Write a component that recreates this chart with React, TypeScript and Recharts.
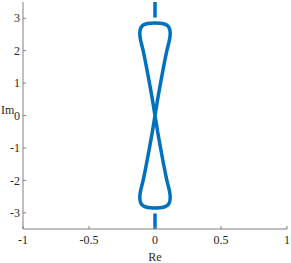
import { Line, LineChart, XAxis, YAxis } from "recharts";

// closed figure-eight, traced: up the right side, over the top, down through 0, round the bottom lobe
const curveRe = [
  0, 0.02, 0.042, 0.065, 0.09, 0.108, 0.115, 0.112, 0.098, 0.07, 0.035, 0,
  -0.035, -0.07, -0.098, -0.112, -0.115, -0.108, -0.09, -0.065, -0.042, -0.02, 0,
  0.02, 0.042, 0.065, 0.09, 0.108, 0.115, 0.112, 0.098, 0.07, 0.035, 0,
  -0.035, -0.07, -0.098, -0.112, -0.115, -0.108, -0.09, -0.065, -0.042, -0.02, 0,
];
const curveIm = [
  0, 0.5, 1, 1.5, 2, 2.3, 2.5, 2.65, 2.76, 2.82, 2.845, 2.85,
  2.845, 2.82, 2.76, 2.65, 2.5, 2.3, 2, 1.5, 1, 0.5, 0,
  -0.5, -1, -1.5, -2, -2.3, -2.5, -2.65, -2.76, -2.82, -2.845, -2.85,
  -2.845, -2.82, -2.76, -2.65, -2.5, -2.3, -2, -1.5, -1, -0.5, 0,
];
const stemTopIm = [3.02, 3.5];
const stemBottomIm = [-3.02, -3.5];

const reTicks = [-1, -0.5, 0, 0.5, 1];
const imTicks = [-3, -2, -1, 0, 1, 2, 3];

const curve = curveRe.map((re, i) => ({ re, im: curveIm[i] }));
const stemTop = stemTopIm.map((im) => ({ re: 0, im }));
const stemBottom = stemBottomIm.map((im) => ({ re: 0, im }));

const font = {
  fontFamily: "'Liberation Serif', 'Times New Roman', Times, serif",
  fontSize: 12,
  fill: "#262626",
};
const boxColor = "#808080";

export default function App() {
  return (
    <div style={{ position: "absolute", left: 0, top: 0, fontFamily: font.fontFamily }}>
      <LineChart width={291} height={263} margin={{ top: 2, right: 4, bottom: 0, left: 0 }}>
        <XAxis
          type="number"
          dataKey="re"
          domain={[-1, 1]}
          ticks={reTicks}
          allowDataOverflow
          height={34}
          tick={font}
          tickSize={-3}
          tickMargin={9}
          axisLine={{ stroke: boxColor }}
          tickLine={{ stroke: boxColor }}
          label={{ value: "Re", position: "insideBottom", offset: 2, ...font }}
        />
        <XAxis
          xAxisId="top"
          orientation="top"
          type="number"
          dataKey="re"
          domain={[-1, 1]}
          ticks={reTicks}
          height={0}
          tickSize={-3}
          tickFormatter={() => ""}
          axisLine={{ stroke: boxColor }}
          tickLine={{ stroke: boxColor }}
        />
        <YAxis
          type="number"
          domain={[-3.5, 3.5]}
          ticks={imTicks}
          allowDataOverflow
          width={23}
          tick={font}
          tickSize={-3}
          tickMargin={6}
          axisLine={{ stroke: boxColor }}
          tickLine={{ stroke: boxColor }}
          label={{ value: "Im", position: "insideLeft", offset: 1, dy: -6, ...font }}
        />
        <YAxis
          yAxisId="right"
          orientation="right"
          type="number"
          domain={[-3.5, 3.5]}
          ticks={imTicks}
          width={0}
          tickSize={-3}
          tickFormatter={() => ""}
          axisLine={{ stroke: boxColor }}
          tickLine={{ stroke: boxColor }}
        />
        <Line data={curve} dataKey="im" type="natural" stroke="#0072BD" strokeWidth={3.5} dot={false} isAnimationActive={false} />
        <Line data={stemTop} dataKey="im" type="linear" stroke="#0072BD" strokeWidth={3.5} dot={false} isAnimationActive={false} />
        <Line data={stemBottom} dataKey="im" type="linear" stroke="#0072BD" strokeWidth={3.5} dot={false} isAnimationActive={false} />
      </LineChart>
    </div>
  );
}
